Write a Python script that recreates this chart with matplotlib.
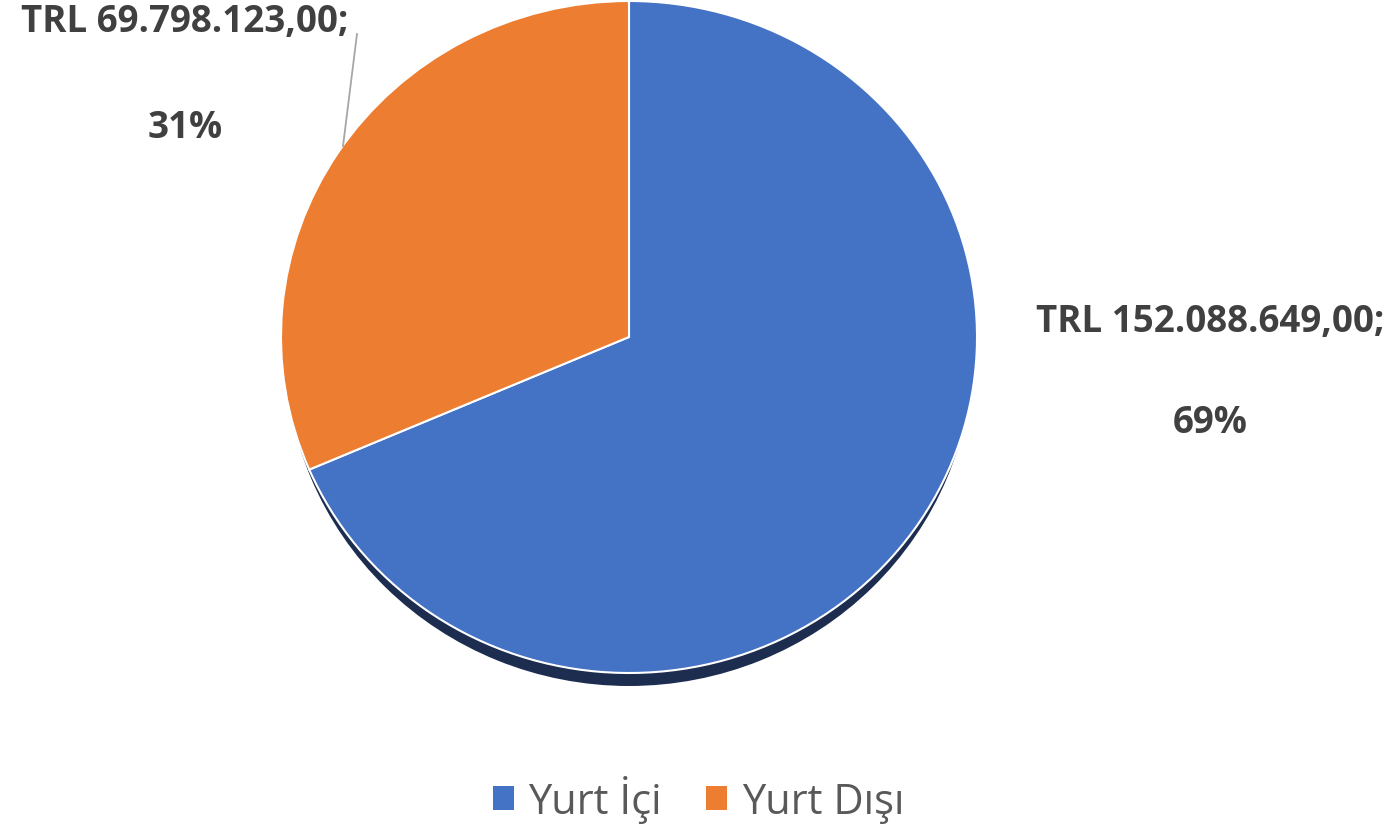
import matplotlib
matplotlib.use("Agg")
import matplotlib.pyplot as plt
from matplotlib.patches import Patch

categories = ["Yurt İçi", "Yurt Dışı"]
values = [152088649.00, 69798123.00]
value_labels = ["TRL 152.088.649,00;", "TRL 69.798.123,00;"]
pct_labels = ["69%", "31%"]
colors = ["#4472C4", "#ED7D31"]
shadow_color = "#1C2D50"

W, H = 1397, 829
fig = plt.figure(figsize=(W / 100, H / 100), dpi=100)
fig.patch.set_facecolor("white")

def add_px_axes(x0, y0, x1, y1):
    # pixel box (top-left origin) -> figure fraction axes
    return fig.add_axes([x0 / W, 1 - y1 / H, (x1 - x0) / W, (y1 - y0) / H])

# shadow
cx, cy, rx, ry = 629, 338, 348, 336
ax_sh = add_px_axes(cx - rx + 4, cy - ry + 13, cx + rx - 4, cy + ry + 13)
ax_sh.pie([1], colors=[shadow_color], radius=1, startangle=90,
          wedgeprops=dict(linewidth=0))
ax_sh.set_xlim(-1, 1); ax_sh.set_ylim(-1, 1)
ax_sh.set_aspect("auto"); ax_sh.axis("off")

# main pie
ax = add_px_axes(cx - rx, cy - ry, cx + rx, cy + ry)
ax.pie(values, colors=colors, startangle=90, counterclock=False, radius=1,
       wedgeprops=dict(edgecolor="white", linewidth=1.5))
ax.set_xlim(-1, 1); ax.set_ylim(-1, 1)
ax.set_aspect("auto"); ax.axis("off")

# overlay axes in pixel coords for labels
ov = fig.add_axes([0, 0, 1, 1], facecolor="none")
ov.set_xlim(0, W); ov.set_ylim(H, 0); ov.axis("off")

lab_font = dict(family=["Open Sans", "DejaVu Sans"], fontweight="bold",
                color="#404040", fontsize=26.5)
ov.text(1210, 322, value_labels[0], ha="center", va="center", **lab_font)
ov.text(1210, 423, pct_labels[0], ha="center", va="center", **lab_font)
ov.text(185, 22, value_labels[1], ha="center", va="center", **lab_font)
ov.text(185, 128, pct_labels[1], ha="center", va="center", **lab_font)
ov.plot([357, 343], [35, 147], color="#A6A6A6", linewidth=1.3)

handles = [Patch(facecolor=c, edgecolor="none") for c in colors]
leg = fig.legend(handles, categories, loc="center", bbox_to_anchor=(0.5, 1 - 800 / H),
                 ncol=2, frameon=False, handlelength=0.5, handleheight=0.5,
                 handletextpad=0.36, columnspacing=1.05,
                 prop=dict(family=["Open Sans", "DejaVu Sans"], size=30))
for t in leg.get_texts():
    t.set_color("#595959")

fig.savefig("out.png", dpi=100, facecolor="white")
